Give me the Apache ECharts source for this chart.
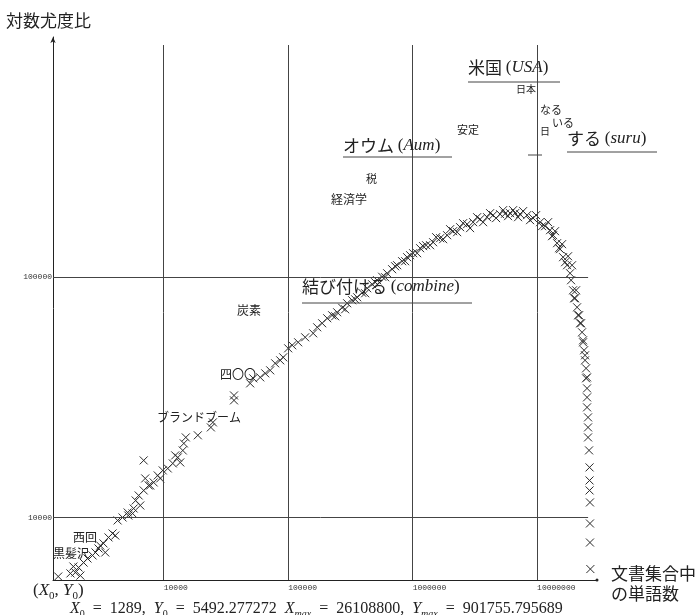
<!DOCTYPE html>
<html><head><meta charset="utf-8">
<script src="https://cdn.jsdelivr.net/npm/echarts@6/dist/echarts.min.js"></script>
<style>html,body{margin:0;padding:0;background:#fff}#c{width:696px;height:615px}</style>
</head><body><div id="c"></div>
<script>
const X0 = 1289, Y0 = 5492.277272, XMAX = 26108800, YMAX = 901755.795689;
const xTicks = [10000, 100000, 1000000, 10000000];
const yTicks = [10000, 100000];

const riseX = [1420,1780,1950,1880,2070,2140,2270,2440,2680,2830,2990,3090,3280,3390,3600,3880,4080,4260,4670,5130,5190,5620,5730,5950,6290,6480,6900,6900,7100,7570,7790,8300,8950,9370,9820,10770,11820,12370,12970,13570,14230,14500,15040,18790,23930,24830,36700,36700];
const riseY = [5680,5850,5900,6250,6190,5730,6490,6750,6950,7150,7430,7640,7800,7150,8260,8580,8410,9720,10000,10490,10190,10390,10900,11770,12350,11220,12960,17280,14540,13590,13590,13990,14960,14540,15700,16000,16790,18130,17780,16950,19010,20340,21540,21980,23710,24880,30720,32210];

const midX = [49500,52400,59600,65400,71700,78600,86300,91200,100000,107700,120300,136900,158800,171000,187600,205800,225600,238500,247500,271500,286900,297800,326700,345300,358300,393000,415500,431000,472800,500000,518700,568900,601200,624200,684500,723400,750900,823600,870600,903300,954800,1009000,1087000,1149000,1214000,1283000,1382000,1461000];
const midY = [36160,37950,38310,39810,40970,43830,45100,46420,50600,52100,53610,56230,58430,61900,64330,67500,69460,68790,71480,74650,73560,77930,80220,80930,82540,86190,85770,90000,93500,95330,97160,100500,100000,103900,108000,111100,112200,116600,116600,121200,123500,125900,125900,132100,134700,135900,135900,139900];

const peakX = [1545000,1663000,1758000,1893000,2001000,2115000,2278000,2407000,2544000,2741000,2896000,3062000,3297000,3485000,3684000,3967000,4194000,4432000,4686000,5045000,5333000,5534000,5850000,6069000,6416000,6657000,7037000,7302000,7719000,8312000,8786000,9288000,9818000,10570000,10970000,11600000,12260000,12720000,13200000,13450000,13950000,14480000,15020000,15300000,15880000];
const peakY = [146800,145400,144000,149600,158500,155500,154000,161600,167900,166300,160100,169500,177800,174400,169500,177800,184800,181300,176200,183000,190200,183900,179600,184800,190200,184800,177800,183000,188400,181300,172800,176200,181300,169500,163100,163100,169500,157000,148200,149600,155500,138600,132100,130900,137300];

const fallX = [16180000,16790000,17420000,17740000,18410000,18760000,19100000,19460000,19830000,20200000,20580000,20960000,21350000,21750000,22150000,22570000,22980000,23410000,23410000,23850000,24290000,24290000,24750000,24750000,25210000,25210000,25210000,25210000,25680000,25680000,25680000,26160000,26400000,26400000,26400000,26600000,26600000,26600000,26800000];
const fallY = [121200,115500,112200,122300,103900,97160,112200,88260,81760,81760,88260,74990,69460,69460,64330,64330,59000,54620,53610,49650,45100,47320,41760,37950,38310,34470,31620,28730,26100,23710,21540,19020,16160,14260,12960,11550,9441,7866,6100];

function zip(xs, ys) { return xs.map((x, i) => [x, ys[i]]); }
const points = [].concat(zip(riseX, riseY), zip(midX, midY), zip(peakX, peakY), zip(fallX, fallY));

const chart = echarts.init(document.getElementById('c'));
const CJK = "'Noto Sans CJK JP'";
const SERIF = "'Liberation Serif','DejaVu Serif'";
const ink = '#222';
const isTick = (v, arr) => arr.some(t => Math.abs(v - t) / t < 1e-6);

const gridTop = 926000, gridRight = 25700000;
const gridLines = [].concat(
  xTicks.map(t => [{coord: [t, Y0]}, {coord: [t, gridTop]}]),
  yTicks.map(t => [{coord: [X0, t]}, {coord: [gridRight, t]}])
);

function txt(x, y, text, size, rich) {
  const st = {x: x, y: y, text: text, fill: ink, verticalAlign: 'middle', align: 'left',
    fontFamily: CJK, fontSize: size};
  if (rich) st.rich = rich;
  return {type: 'text', z: 100, style: st};
}
function line(x1, y1, x2, y2) {
  return {type: 'line', z: 100, shape: {x1, y1, x2, y2}, style: {stroke: '#444', lineWidth: 1}};
}
function mathRich(sz) {
  return {
    j: {fontFamily: CJK, fontSize: sz, lineHeight: sz + 4, fill: ink},
    r: {fontFamily: SERIF, fontSize: sz, lineHeight: sz + 4, fill: ink},
    i: {fontFamily: SERIF, fontStyle: 'italic', fontSize: sz, lineHeight: sz + 4, fill: ink},
    s: {fontFamily: SERIF, fontSize: Math.round(sz * 0.62), lineHeight: Math.round(sz * 0.62), verticalAlign: 'bottom', fill: ink},
    si: {fontFamily: SERIF, fontStyle: 'italic', fontSize: Math.round(sz * 0.62), lineHeight: Math.round(sz * 0.62), verticalAlign: 'bottom', fill: ink}
  };
}

chart.setOption({
  animation: false,
  backgroundColor: '#fff',
  grid: {left: 53, right: 99, top: 37, bottom: 35},
  xAxis: {
    type: 'log', logBase: 10, min: X0, max: 30300000,
    axisLine: {show: true, lineStyle: {color: '#222', width: 1}, symbol: ['none', 'circle'], symbolSize: [3, 3]},
    axisTick: {show: false},
    splitLine: {show: false},
    axisLabel: {
      formatter: v => isTick(v, xTicks) ? String(Math.round(v)) : '',
      fontSize: 8, fontFamily: "'Liberation Mono','DejaVu Sans Mono'", color: '#333',
      align: 'left', margin: 4, showMinLabel: true, showMaxLabel: true
    }
  },
  yAxis: {
    type: 'log', logBase: 10, min: Y0, max: 1000000,
    axisLine: {show: true, lineStyle: {color: '#222', width: 1}, symbol: ['none', 'arrow'], symbolSize: [4, 6]},
    axisTick: {show: false},
    splitLine: {show: false},
    axisLabel: {
      formatter: v => isTick(v, yTicks) ? String(Math.round(v)) : '',
      fontSize: 8, fontFamily: "'Liberation Mono','DejaVu Sans Mono'", color: '#333', margin: 1
    }
  },
  series: [{
    type: 'scatter',
    data: points,
    symbol: 'path://M0,0L10,10M10,0L0,10',
    symbolSize: 8,
    itemStyle: {color: 'none', borderColor: '#2b2b2b', borderWidth: 1, opacity: 1},
    silent: true,
    markLine: {
      silent: true, symbol: ['none', 'none'], label: {show: false},
      lineStyle: {color: '#444', width: 1, type: 'solid'},
      data: gridLines
    }
  }],
  graphic: [
    txt(6, 21, '対数尤度比', 17),
    txt(33, 591, '{r|(}{i|X}{s|0}{r|, }{i|Y}{s|0}{r|)}', 17, mathRich(17)),
    txt(70, 609, '{i|X}{s|0}{r|  =  1289,  }{i|Y}{s|0}{r|  =  5492.277272  }{i|X}{si|max}{r|  =  26108800,  }{i|Y}{si|max}{r|  =  901755.795689}', 16, mathRich(16)),
    txt(611, 574, '文書集合中', 17),
    txt(611, 594, 'の単語数', 17),
    txt(468, 68, '{j|米国 }{r|(}{i|USA}{r|)}', 17, mathRich(17)),
    line(468, 82, 560, 82),
    txt(516, 89, '日本', 10),
    txt(540, 110, 'なる', 11),
    txt(552, 123, 'いる', 11),
    txt(540, 131, '日', 10),
    txt(567, 139, '{j|する }{r|(}{i|suru}{r|)}', 17, mathRich(17)),
    line(567, 152, 657, 152),
    line(528, 155, 542, 155),
    txt(457, 130, '安定', 11),
    txt(343, 146, '{j|オウム }{r|(}{i|Aum}{r|)}', 17, mathRich(17)),
    line(343, 157, 452, 157),
    txt(366, 179, '税', 11),
    txt(331, 199, '経済学', 12),
    txt(237, 310, '炭素', 12),
    txt(302, 287, '{j|結び付ける }{r|(}{i|combine}{r|)}', 17, mathRich(17)),
    line(302, 303, 472, 303),
    txt(220, 374, '四〇〇', 12),
    txt(157, 417, 'ブランドブーム', 12),
    txt(73, 537, '西回', 12),
    txt(53, 553, '黒髪沢', 12)
  ]
});
</script>
</body></html>
